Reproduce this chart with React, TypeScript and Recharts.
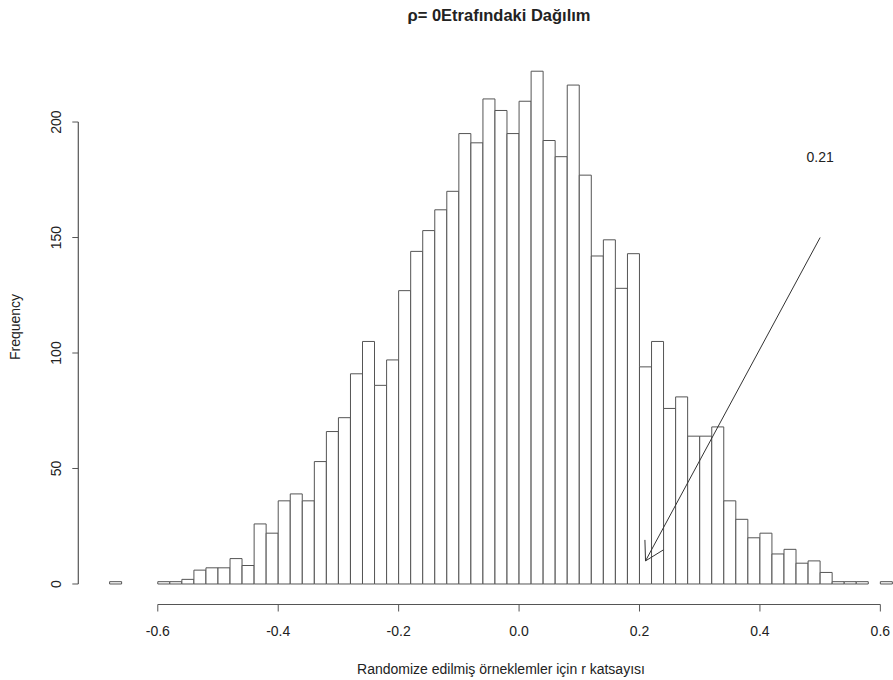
import {
  ComposedChart, Bar, XAxis, YAxis, ReferenceLine, ReferenceDot,
} from 'recharts'

// histogram bins: 0.02 wide, first bin starts at -0.68
const BIN_START = -0.68
const BIN_WIDTH = 0.02
const binCounts = [
  1, 0, 0, 0, 1, 1, 2, 6, 7, 7,
  11, 8, 26, 22, 36, 39, 36, 53, 66, 72,
  91, 105, 86, 97, 127, 144, 153, 162, 170, 195,
  191, 210, 205, 195, 209, 222, 192, 185, 216, 177,
  142, 149, 128, 143, 94, 105, 76, 81, 64, 64,
  68, 36, 28, 20, 22, 13, 15, 9, 10, 5,
  1, 1, 1, 0, 1,
]

const xTicks = [-0.6, -0.4, -0.2, 0, 0.2, 0.4, 0.6]
const yTicks = [0, 50, 100, 150, 200]

const arrowFrom = { x: 0.5, y: 150 }
const arrowTo = { x: 0.21, y: 10 }
const noteText = { x: 0.5, y: 185, label: '0.21' }

const TITLE = 'ρ= 0Etrafındaki Dağılım'
const X_TITLE = 'Randomize edilmiş örneklemler için r katsayısı'
const Y_TITLE = 'Frequency'

const X_DOMAIN: [number, number] = [-0.732, 0.621]
const Y_DOMAIN: [number, number] = [-8.88, 230.88]

const W = 893
const H = 680
const M_TOP = 50.7
const M_LEFT = 18.3
const Y_AXIS_W = 60
const X_AXIS_H = 75.5

// y axis frame line (R draws it only from the first to the last tick)
const plotLeft = M_LEFT + Y_AXIS_W
const plotTop = M_TOP
const plotBottom = H - X_AXIS_H
const yPix = (v: number) =>
  plotBottom - ((v - Y_DOMAIN[0]) / (Y_DOMAIN[1] - Y_DOMAIN[0])) * (plotBottom - plotTop)

const FONT = '"Liberation Sans", Arial, sans-serif'
const INK = '#222'
const LINE = '#555'

const data = binCounts.map((c, i) => ({
  mid: +(BIN_START + BIN_WIDTH * (i + 0.5)).toFixed(3),
  count: c,
}))

const YTick = (props: any) => {
  const { y, payload } = props
  return (
    <text x={61} y={y} transform={`rotate(-90, 61, ${y})`} textAnchor="middle"
      fontSize={14} fontFamily={FONT} fill={INK}>
      {payload.value}
    </text>
  )
}

// R-style arrow: line with open head at the second point
const Arrow = (props: any) => {
  const { x1, y1, x2, y2 } = props
  const ang = Math.atan2(y1 - y2, x1 - x2)
  const len = 21
  const a = Math.PI / 6
  const h1x = x2 + len * Math.cos(ang + a), h1y = y2 + len * Math.sin(ang + a)
  const h2x = x2 + len * Math.cos(ang - a), h2y = y2 + len * Math.sin(ang - a)
  return (
    <g stroke="#333" strokeWidth={1} fill="none">
      <line x1={x1} y1={y1} x2={x2} y2={y2} />
      <polyline points={`${h1x},${h1y} ${x2},${y2} ${h2x},${h2y}`} />
    </g>
  )
}

export default function App() {
  return (
    <div style={{ position: 'absolute', left: 0, top: 0, width: W, height: H, background: '#fff' }}>
      <ComposedChart width={W} height={H} data={data}
        margin={{ top: M_TOP, right: 0, bottom: 0, left: M_LEFT }}
        barCategoryGap={0} barGap={0}>
        <XAxis dataKey="mid" type="number" domain={X_DOMAIN} allowDataOverflow
          ticks={xTicks} tickFormatter={(v: number) => v.toFixed(1)}
          axisLine={false} tickLine={{ stroke: LINE }} tickSize={7} tickMargin={15}
          height={X_AXIS_H} interval={0}
          tick={{ fontSize: 14, fontFamily: FONT, fill: INK }} />
        <YAxis type="number" domain={Y_DOMAIN} allowDataOverflow ticks={yTicks}
          width={Y_AXIS_W} axisLine={false} tickLine={{ stroke: LINE }} tickSize={6}
          interval={0} tick={<YTick />} />
        <Bar dataKey="count" fill="#fff" stroke={LINE} strokeWidth={1}
          isAnimationActive={false} />
        <ReferenceLine segment={[{ x: xTicks[0], y: Y_DOMAIN[0] }, { x: xTicks[xTicks.length - 1], y: Y_DOMAIN[0] }]}
          stroke={LINE} strokeWidth={1.2} ifOverflow="visible" />
        <ReferenceLine segment={[arrowFrom, arrowTo]} ifOverflow="visible" shape={<Arrow />} />
        <ReferenceDot x={noteText.x} y={noteText.y} r={0} fill="none" stroke="none" ifOverflow="visible"
          label={{ value: noteText.label, position: 'center', fontSize: 14, fontFamily: FONT, fill: INK }} />
      </ComposedChart>
      <svg width={W} height={H} style={{ position: 'absolute', left: 0, top: 0, pointerEvents: 'none' }}>
        <line x1={plotLeft} y1={yPix(yTicks[0])} x2={plotLeft} y2={yPix(yTicks[yTicks.length - 1])}
          stroke={LINE} strokeWidth={1.2} />
        <text x={499} y={20.5} textAnchor="middle" fontSize={16.5} fontWeight="bold" fontFamily={FONT} fill={INK}>
          {TITLE}
        </text>
        <text x={501} y={674} textAnchor="middle" fontSize={14} fontFamily={FONT} fill={INK}>
          {X_TITLE}
        </text>
        <text x={20} y={327} transform="rotate(-90, 20, 327)" textAnchor="middle" fontSize={14} fontFamily={FONT} fill={INK}>
          {Y_TITLE}
        </text>
      </svg>
    </div>
  )
}
